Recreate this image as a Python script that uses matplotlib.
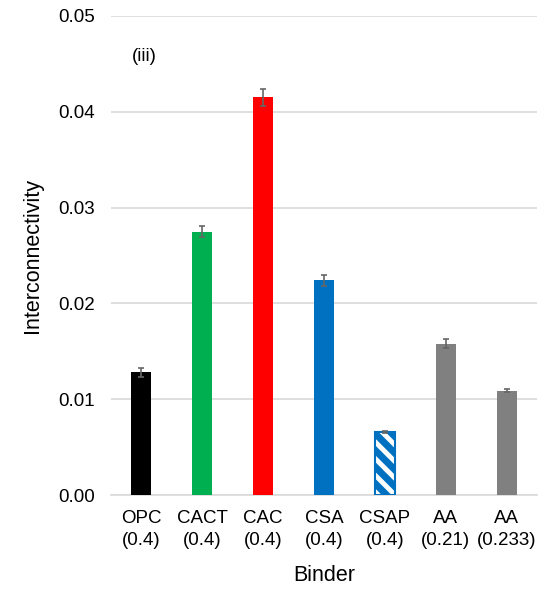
import numpy as np
import matplotlib.pyplot as plt

plt.rcParams['font.family'] = ['Liberation Sans', 'DejaVu Sans']
plt.rcParams['hatch.linewidth'] = 3.5

binders = ['OPC\n(0.4)', 'CACT\n(0.4)', 'CAC\n(0.4)', 'CSA\n(0.4)',
           'CSAP\n(0.4)', 'AA\n(0.21)', 'AA\n(0.233)']
interconnectivity = [0.0128, 0.0275, 0.0415, 0.0224, 0.0066, 0.0158, 0.0109]
err = [0.00044, 0.00055, 0.00085, 0.0006, 0.0001, 0.00045, 0.0002]
colors = ['#000000', '#00B050', '#FF0000', '#0070C0', '#0070C0', '#808080', '#808080']

fig = plt.figure(figsize=(5.43, 5.89), dpi=100)
ax = fig.add_axes([111/543, 94/589, 426/543, 479/589])

x = np.arange(len(binders))
w = 0.33

for i in range(len(binders)):
    if i == 4:
        # patterned bar: blue with white diagonal stripes
        ax.bar(x[i], interconnectivity[i], w, color='#0070C0', edgecolor='white',
               hatch='\\\\', linewidth=0, zorder=3)
        ax.bar(x[i], interconnectivity[i], w, facecolor='none', edgecolor='#0070C0',
               linewidth=1.5, zorder=4)
    else:
        ax.bar(x[i], interconnectivity[i], w, color=colors[i], zorder=3)

ax.errorbar(x, interconnectivity, yerr=err, fmt='none', ecolor='#666666',
            elinewidth=1.2, capsize=2.5, capthick=1.2, zorder=5)

ax.set_ylim(0, 0.05)
ax.set_xlim(-0.5, len(binders) - 0.5)
ax.set_yticks([0, 0.01, 0.02, 0.03, 0.04, 0.05])
ax.set_yticklabels(['0.00', '0.01', '0.02', '0.03', '0.04', '0.05'])
ax.set_xticks(x)
ax.set_xticklabels(binders, linespacing=1.35)
ax.tick_params(axis='both', length=0, colors='black', labelsize=13.5)
ax.tick_params(axis='y', pad=11.5)
ax.tick_params(axis='x', pad=11)

ax.grid(axis='y', color='#d9d9d9', linewidth=1.2, zorder=0)
for s in ['top', 'right', 'left']:
    ax.spines[s].set_visible(False)
ax.spines['bottom'].set_color('#d9d9d9')
ax.spines['bottom'].set_linewidth(1.2)

ax.set_ylabel('Interconnectivity', fontsize=15.5, labelpad=11)
ax.set_xlabel('Binder', fontsize=15.5, labelpad=12)
ax.text(0.05, 0.0458, '(iii)', fontsize=13.5, ha='center', va='center')

fig.savefig('out.png', dpi=100)
